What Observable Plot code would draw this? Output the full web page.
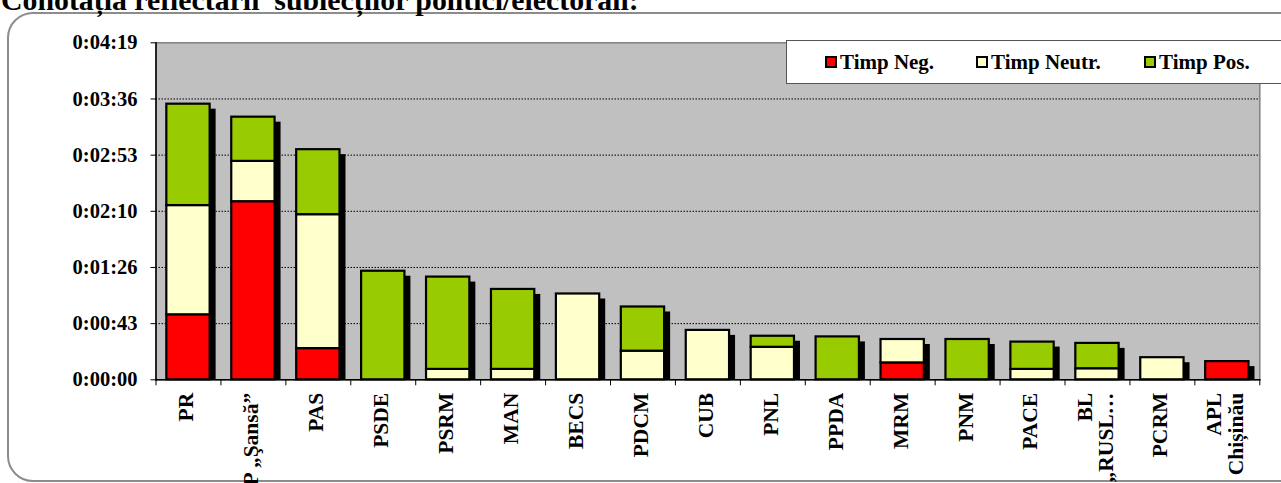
<!DOCTYPE html>
<html>
<head>
<meta charset="utf-8">
<script src="https://cdn.jsdelivr.net/npm/d3@7"></script>
<script src="https://cdn.jsdelivr.net/npm/@observablehq/plot@0.6"></script>
<style>
  html, body { margin: 0; padding: 0; background: #fff; }
  #wrap { position: relative; width: 1281px; height: 483px; overflow: hidden; font-family: "Liberation Serif", "Times New Roman", serif; }
  #title { position: absolute; left: 1px; top: -15px; font-size: 29.8px; line-height: 29.8px; font-weight: bold; white-space: pre; color: #000; }
  #frame { position: absolute; left: 7px; top: 12px; width: 1320px; height: 466px; border: 2px solid #8c8c8c; border-radius: 26px; }
  #chart { position: absolute; left: 0; top: 0; }
  #legend { position: absolute; left: 786px; top: 40px; width: 540px; height: 42px; background: #fff; border: 1.5px solid #555; }
  .item { position: absolute; top: 0; height: 42px; display: flex; align-items: center; font-size: 21px; font-weight: bold; white-space: nowrap; }
  .sw { display: inline-block; width: 8px; height: 8px; border: 2px solid #000; margin-right: 3px; }
</style>
</head>
<body>
<div id="wrap">
  <div id="frame"></div>
  <div id="title">Conotația reflectării  subiecților politici/electorali:</div>
  <div id="chart"></div>
  <div id="legend"></div>
</div>
<script>
// Categories (parties / subjects)
const categories = ["PR", "PP „Şansă”", "PAS", "PSDE", "PSRM", "MAN", "BECS", "PDCM", "CUB", "PNL", "PPDA", "MRM", "PNM", "PACE", "BL „RUSL…", "PCRM", "APL Chișinău"];
const categoryLabels = ["PR", "PP „Şansă”", "PAS", "PSDE", "PSRM", "MAN", "BECS", "PDCM", "CUB", "PNL", "PPDA", "MRM", "PNM", "PACE", "BL\n„RUSL…", "PCRM", "APL\nChișinău"];

// Series (seconds)
const timpNeg   = [50, 137, 24, 0, 0, 0, 0, 0, 0, 0, 0, 13, 0, 0, 0, 0, 14];
const timpNeutr = [84, 31, 103, 0, 8, 8, 66, 22, 38, 25, 0, 18, 0, 8, 8.5, 17, 0];
const timpPos   = [78, 34, 50, 83.5, 71, 61.5, 0, 34, 0, 8.5, 33, 0, 31, 21, 19.5, 0, 0];

const seriesNames = ["Timp Neg.", "Timp Neutr.", "Timp Pos."];
const seriesColors = ["#ff0000", "#ffffcc", "#99cc00"];

// Y ticks in seconds (Excel time axis, 0.0005 day steps)
const yTicks = [0, 43.2, 86.4, 129.6, 172.8, 216, 259.2];

const fmt = s => {
  const t = Math.round(s);
  const m = Math.floor(t / 60), sec = t % 60;
  return `0:${String(m).padStart(2, "0")}:${String(sec).padStart(2, "0")}`;
};

const series = [timpNeg, timpNeutr, timpPos];
const data = categories.flatMap((c, i) =>
  seriesNames.map((n, k) => ({cat: c, type: n, v: series[k][i]}))
).filter(d => d.v > 0);
const totals = categories.map((c, i) => ({cat: c, total: timpNeg[i] + timpNeutr[i] + timpPos[i]}));

const W = 1281, H = 483;
const mL = 155.5, mR = 21.7, mT = 42.3, mB = 103.7;
const step = (W - mL - mR) / categories.length;
const labelOf = new Map(categories.map((c, i) => [c, categoryLabels[i]]));

const chart = Plot.plot({
  width: W,
  height: H,
  marginLeft: mL,
  marginRight: mR,
  marginTop: mT,
  marginBottom: mB,
  style: {background: "transparent", fontFamily: "'Liberation Serif', 'Times New Roman', serif", overflow: "visible"},
  x: {domain: categories, paddingInner: 0.333, paddingOuter: 0.1667, round: false, axis: null, label: null},
  y: {domain: [0, 259.2], axis: null, label: null},
  color: {domain: seriesNames, range: seriesColors},
  marks: [
    Plot.frame({fill: "#c0c0c0", stroke: "#808080", strokeWidth: 1.5}),
    Plot.ruleY(yTicks.slice(1, -1), {stroke: "#000", strokeWidth: 1, strokeDasharray: "1.5,1.5"}),
    Plot.barY(totals, {x: "cat", y1: 0, y2: "total", fill: "#000", dx: 6, insetTop: 5}),
    Plot.barY(data, {x: "cat", y: "v", fill: "type", stroke: "#000", strokeWidth: 2.2}),
    Plot.frame({anchor: "left", stroke: "#000", strokeWidth: 1.5}),
    Plot.frame({anchor: "bottom", stroke: "#000", strokeWidth: 1.5}),
    Plot.axisY({
      ticks: yTicks, tickFormat: fmt, tickSize: 5, tickPadding: 13.5, label: null,
      fontSize: 20.5, fontWeight: "bold", stroke: "#000", fill: "#000"
    }),
    Plot.axisX({ticks: categories, tickFormat: () => "", tickSize: 6, dx: -step / 2, stroke: "#000", label: null}),
    Plot.axisX({ticks: categories.slice(-1), tickFormat: () => "", tickSize: 6, dx: step / 2, stroke: "#000", label: null}),
    Plot.text(categories, {
      x: d => d, frameAnchor: "bottom", text: d => labelOf.get(d),
      rotate: -90, textAnchor: "end", lineAnchor: "middle", dy: 13, dx: -2,
      fontSize: 21.5, fontWeight: "bold", fill: "#000", lineHeight: 1
    })
  ]
});
document.getElementById("chart").appendChild(chart);

// Legend
const legend = document.getElementById("legend");
const legendX = [38, 189, 357];
seriesNames.forEach((n, k) => {
  const it = document.createElement("div");
  it.className = "item";
  it.style.left = legendX[k] + "px";
  const sw = document.createElement("span");
  sw.className = "sw";
  sw.style.background = seriesColors[k];
  it.appendChild(sw);
  it.appendChild(document.createTextNode(n));
  legend.appendChild(it);
});
</script>
</body>
</html>
